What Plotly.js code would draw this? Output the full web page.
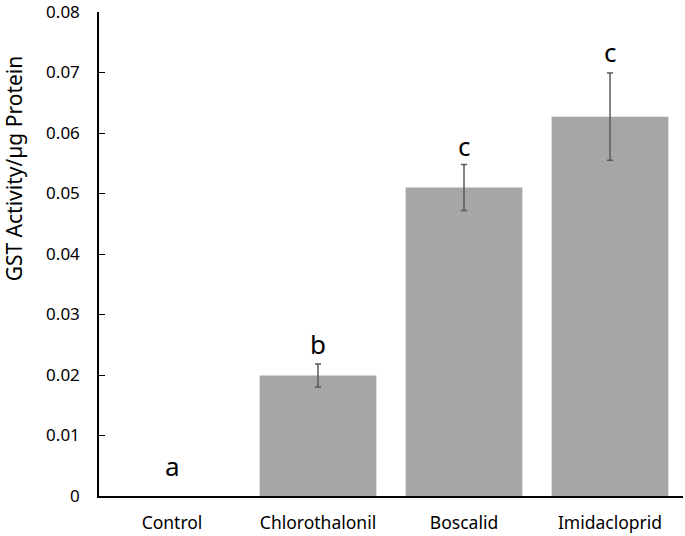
<!DOCTYPE html>
<html>
<head>
<meta charset="utf-8">
<script src="https://cdn.plot.ly/plotly-3.0.1.min.js"></script>
<style>body{margin:0;background:#fff}</style>
</head>
<body>
<div id="Grafico" style="width:685px;height:536px"></div>
<script>
let categorias = ['Control', 'Chlorothalonil', 'Boscalid', 'Imidacloprid'];
let actividad = [0, 0.0199, 0.0510, 0.0627];
let errores = [NaN, 0.0019, 0.0038, 0.0072];
let letras = ['a', 'b', 'c', 'c'];
let letrasY = [0.0049, 0.0252, 0.0578, 0.0734];
let ticksY = [0, 0.01, 0.02, 0.03, 0.04, 0.05, 0.06, 0.07, 0.08];
let etiquetasY = ['0', '0.01', '0.02', '0.03', '0.04', '0.05', '0.06', '0.07', '0.08'];

let barras = {
	x: categorias,
	y: actividad,
	type: 'bar',
	marker: { color: '#a6a6a6', line: { width: 0 } },
	error_y: {
		type: 'data',
		array: errores,
		visible: true,
		color: '#595959',
		thickness: 1.5,
		width: 3
	},
	hoverinfo: 'none'
}

let anotaciones = categorias.map((c, i) => ({
	x: c,
	y: letrasY[i],
	text: letras[i],
	showarrow: false,
	font: { family: 'Noto Sans, Open Sans, sans-serif', size: 26, color: '#000' },
	yanchor: 'middle'
}));

// titulo del eje y (en Excel no queda centrado)
anotaciones.push({
	xref: 'paper', yref: 'paper',
	x: -0.1455, y: 0.677,
	text: 'GST Activity/µg Protein',
	textangle: -90,
	showarrow: false,
	font: { family: 'Noto Sans, Open Sans, sans-serif', size: 21, color: '#000' },
	xanchor: 'center', yanchor: 'middle'
});

let layout = {
	width: 685,
	height: 536,
	margin: { l: 99, r: 2, t: 12, b: 40 },
	paper_bgcolor: '#fff',
	plot_bgcolor: '#fff',
	bargap: 0.2,
	showlegend: false,
	font: { family: 'Noto Sans, Open Sans, sans-serif', color: '#000' },
	xaxis: {
		showline: true,
		linecolor: '#000',
		linewidth: 1.5,
		ticks: '',
		tickfont: { size: 17.5 },
		ticklabelstandoff: 10,
		showgrid: false,
		zeroline: false
	},
	yaxis: {
		range: [0, 0.08],
		tickvals: ticksY,
		ticktext: etiquetasY,
		ticklabeloverflow: 'allow',
		showline: true,
		linecolor: '#000',
		linewidth: 1.5,
		ticks: 'inside',
		ticklen: 6,
		tickcolor: '#000',
		tickfont: { size: 17 },
		ticklabelstandoff: 14,
		showgrid: false,
		zeroline: false
	},
	annotations: anotaciones
}

let contenedor = document.getElementById("Grafico");
Plotly.newPlot(contenedor, [barras], layout, { displayModeBar: false });
</script>
</body>
</html>
